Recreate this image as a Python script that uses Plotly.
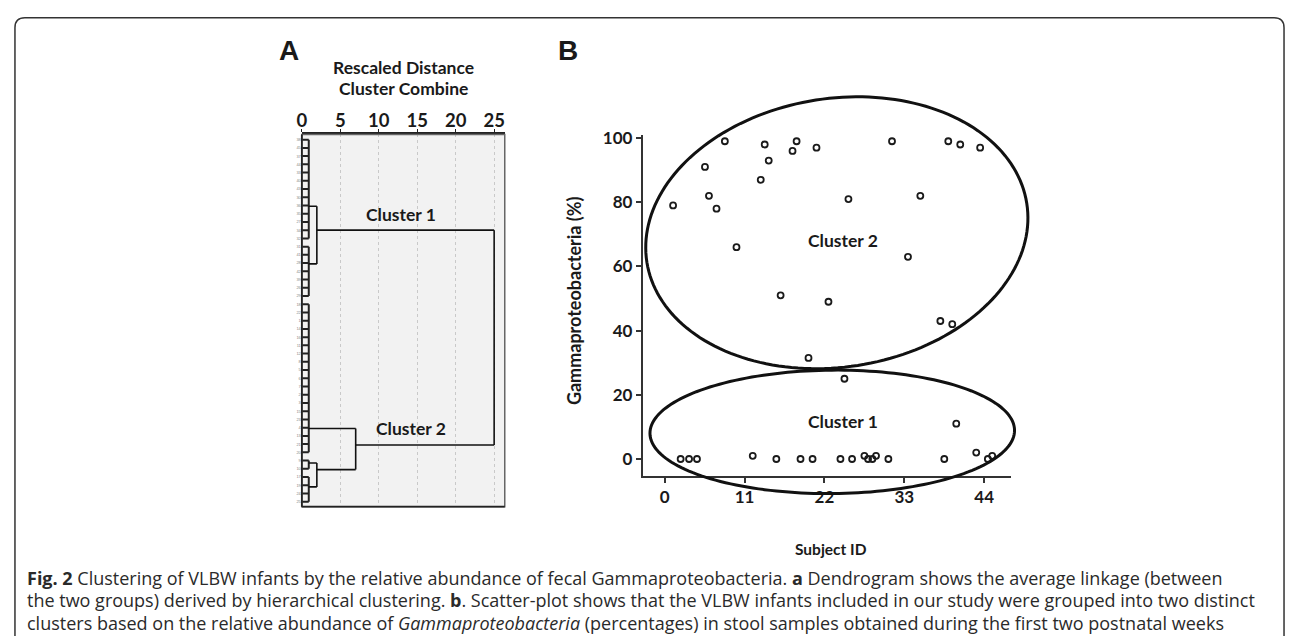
import numpy as np
import plotly.graph_objects as go

W, H = 1290, 636

# ---------------- Panel A data (dendrogram) ----------------
leaf_labels = ["38", "45", "37", "44", "33", "40", "43", "30", "36", "35", "27", "34", "32", "31",
               "41", "28", "42", "39", "26", "29",
               "18", "22", "1", "14", "16", "11", "12", "8", "5", "6", "7", "2", "3", "15", "23",
               "4", "13", "21", "20", "9", "10", "17", "19", "24", "25"]
# leaf groups joined near distance 0 (first leaf index, last leaf index)
leaf_groups = [(0, 12), (13, 19), (20, 38), (39, 40), (41, 44)]
group_join_dist = [0.9, 0.9, 0.9, 0.9, 0.9]
group_anchor = [8.1, 15.1, 35.1, 39.3, 42.2]
# merges: child node a, child node b, rescaled distance, anchor (leaf units)
merge_a = [0, 3, 2, 5]
merge_b = [1, 4, 6, 7]
merge_dist = [1.95, 1.95, 7.0, 25.0]
merge_anchor = [11.0, 40.1, 37.1, 24.0]
dendro_ticks = [0, 5, 10, 15, 20, 25]

# ---------------- Panel B data (scatter) ----------------
subject_id = [1.15, 2.19, 3.35, 4.44, 5.54, 6.09, 7.13, 8.28, 9.88, 12.12, 13.22, 13.77, 14.32, 15.37,
              15.96, 17.6, 18.16, 18.7, 19.8, 20.36, 20.9, 22.55, 24.2, 24.75, 25.3, 25.8, 27.5, 28.0,
              28.6, 29.1, 30.8, 31.3, 33.5, 35.2, 37.96, 38.5, 39.05, 39.6, 40.15, 40.7, 42.9, 43.44,
              44.5, 45.1]
gamma_pct = [79, 0, 0, 0, 91, 82, 78, 99, 66, 1, 87, 98, 93, 0,
             51, 96, 99, 0, 31.5, 0, 97, 49, 0, 25, 81, 0, 1, 0,
             0, 1, 0, 99, 63, 82, 43, 0, 99, 42, 11, 98, 2, 97,
             0, 1]
x_ticks = [0, 11, 22, 33, 44]
y_ticks = [0, 20, 40, 60, 80, 100]

# ---------------- layout geometry ----------------
xd1 = [298 / W, 501.7 / W]
yd1 = [1 - 505 / H, 1 - 128 / H]
xr1 = [0, 26.38]
yr1 = [44.6, -0.64]

xd2 = [640 / W, 1010 / W]
yd2 = [1 - 474.3 / H, 1 - 128.3 / H]
xr2 = [-3.06, 47.7]
yr2 = [-5.4, 101.05]

LABEL_FONT = "Lato"
INK = "#1a1a1a"

fig = go.Figure()

# ---- dendrogram lines ----
node_dist = list(group_join_dist)
node_anchor = list(group_anchor)
rx, ry = [], []
for g, (a, b) in enumerate(leaf_groups):
    for i in range(a, b + 1):
        rx += [0, group_join_dist[g], None]
        ry += [i, i, None]
    rx += [group_join_dist[g], group_join_dist[g], None]
    ry += [a, b, None]
fig.add_trace(go.Scatter(x=rx, y=ry, mode="lines", line=dict(color="#222", width=2),
                         xaxis="x", yaxis="y", hoverinfo="skip", showlegend=False))

mx, my = [], []
for a, b, d, anc in zip(merge_a, merge_b, merge_dist, merge_anchor):
    for c in (a, b):
        mx += [node_dist[c], d, None]
        my += [node_anchor[c], node_anchor[c], None]
    mx += [d, d, None]
    my += [node_anchor[a], node_anchor[b], None]
    node_dist.append(d)
    node_anchor.append(anc)
fig.add_trace(go.Scatter(x=mx, y=my, mode="lines", line=dict(color="#111", width=1.6),
                         xaxis="x", yaxis="y", hoverinfo="skip", showlegend=False))

# ---- scatter ----
fig.add_trace(go.Scatter(x=subject_id, y=gamma_pct, mode="markers",
                         marker=dict(symbol="circle-open", size=6, color=INK,
                                     line=dict(width=1.8, color=INK)),
                         xaxis="x2", yaxis="y2", showlegend=False,
                         cliponaxis=False))

shapes = []
shapes.append(dict(type="rect", xref="x domain", yref="y domain", x0=0, x1=1, y0=0, y1=1,
                   fillcolor="#f2f2f2", line=dict(width=0), layer="below"))
shapes.append(dict(type="rect", xref="x domain", yref="y domain", x0=0, x1=1, y0=0, y1=1,
                   fillcolor="rgba(0,0,0,0)", line=dict(color="#666", width=1.5), layer="above"))
shapes.append(dict(type="line", xref="x domain", yref="y domain", x0=0, x1=0, y0=0, y1=1,
                   line=dict(color="#222", width=1.8), layer="above"))
shapes.append(dict(type="line", xref="x domain", yref="y domain", x0=0, x1=1, y0=0, y1=0,
                   line=dict(color="#222", width=1.8), layer="above"))


def p2(x, y):
    u = xd2[0] + (x - xr2[0]) / (xr2[1] - xr2[0]) * (xd2[1] - xd2[0])
    v = yd2[0] + (y - yr2[0]) / (yr2[1] - yr2[0]) * (yd2[1] - yd2[0])
    return u, v


def ellipse_path(cx, cy, a_px, b_px, rot_deg, n=180):
    u0, v0 = p2(cx, cy)
    th = np.deg2rad(rot_deg)
    t = np.linspace(0, 2 * np.pi, n, endpoint=False)
    dx = a_px * np.cos(t) * np.cos(th) - b_px * np.sin(t) * np.sin(th)
    dy = a_px * np.cos(t) * np.sin(th) + b_px * np.sin(t) * np.cos(th)
    pts = [f"{u0 + x / W:.5f},{v0 + y / H:.5f}" for x, y in zip(dx, dy)]
    return "M" + " L".join(pts) + " Z"


shapes.append(dict(type="path", xref="paper", yref="paper",
                   path=ellipse_path(23.7, 70.5, 193, 136, 8.9),
                   line=dict(color="#111", width=3)))
shapes.append(dict(type="path", xref="paper", yref="paper",
                   path=ellipse_path(23.07, 8.46, 183, 62.5, 0.5),
                   line=dict(color="#111", width=3)))


def px(xp, yp):
    return f"{xp / W:.5f},{1 - yp / H:.5f}"


L, T, R, B, r = 10, 10, 1284, 680, 10
frame = (f"M{px(L, B)} L{px(L, T + r)} Q{px(L, T)} {px(L + r, T)} L{px(R - r, T)} "
         f"Q{px(R, T)} {px(R, T + r)} L{px(R, B)}")
shapes.append(dict(type="path", xref="paper", yref="paper", path=frame,
                   line=dict(color="#333", width=1.5)))


def txt(text, x, y, size, family=LABEL_FONT, xref="paper", yref="paper", **kw):
    d = dict(text=text, x=x, y=y, xref=xref, yref=yref, showarrow=False,
             xanchor="center", yanchor="middle",
             font=dict(family=family, size=size, color=INK, weight="bold"))
    d.update(kw)
    return d


ann = []
ann.append(txt("A", 285 / W, 1 - 43 / H, 28, family="Liberation Sans"))
ann.append(txt("B", 565 / W, 1 - 43 / H, 28, family="Liberation Sans"))
ann.append(txt("Rescaled Distance", 400 / W, 1 - 60 / H, 17.5))
ann.append(txt("Cluster Combine", 400 / W, 1 - 82 / H, 17.5))
ann.append(txt("Cluster 1", 12.95, 9.1, 17.5, xref="x", yref="y"))
ann.append(txt("Cluster 2", 14.25, 35.1, 17.5, xref="x", yref="y"))
ann.append(txt("Cluster 2", 24.6, 68.2, 17.5, xref="x2", yref="y2"))
ann.append(txt("Cluster 1", 24.6, 11.8, 17.5, xref="x2", yref="y2"))
ann.append(txt("Gammaproteobacteria (%)", 571 / W, 1 - 296 / H, 18, textangle=-90))
ann.append(txt("Subject ID", 829 / W, 1 - 548 / H, 15.5))

cap = [
    "<b>Fig. 2</b> Clustering of VLBW infants by the relative abundance of fecal Gammaproteobacteria. "
    "<b>a</b> Dendrogram shows the average linkage (between",
    "the two groups) derived by hierarchical clustering. <b>b</b>. Scatter-plot shows that the VLBW "
    "infants included in our study were grouped into two distinct",
    "clusters based on the relative abundance of <i>Gammaproteobacteria</i> (percentages) in stool "
    "samples obtained during the first two postnatal weeks",
]
for k, line in enumerate(cap):
    ann.append(dict(text=line, x=20 / W, y=1 - (577 + 23 * k) / H, xref="paper", yref="paper",
                    xanchor="left", yanchor="middle", showarrow=False,
                    font=dict(family="Open Sans", size=18, color="#2a2a2a")))

tick_font = dict(family=LABEL_FONT, size=17, color=INK, weight="bold")
dendro_tick_font = dict(family=LABEL_FONT, size=18.5, color=INK, weight="bold")
fig.update_layout(
    width=W, height=H, margin=dict(l=0, r=0, t=0, b=0),
    paper_bgcolor="white", plot_bgcolor="rgba(0,0,0,0)",
    shapes=shapes, annotations=ann,
    xaxis=dict(domain=xd1, range=xr1, side="top", anchor="y", tickvals=dendro_ticks,
               ticks="outside", ticklen=3, tickcolor="#222", showline=True, linecolor="#222",
               linewidth=2, showgrid=True, gridcolor="#c9c9c9", griddash="dot", gridwidth=1,
               zeroline=False, tickfont=dendro_tick_font, ticklabelstandoff=-5),
    yaxis=dict(domain=yd1, range=yr1, anchor="x", tickvals=list(range(len(leaf_labels))),
               ticktext=leaf_labels, ticks="", showgrid=False, zeroline=False, showline=False,
               tickfont=dict(family="Liberation Sans", size=4, color="#888")),
    xaxis2=dict(domain=xd2, range=xr2, anchor="y2", tickvals=x_ticks, ticks="outside",
                ticklen=5, tickwidth=1.5, tickcolor="#333", showline=True, linecolor="#333",
                linewidth=1.5, showgrid=False, zeroline=False, tickfont=tick_font),
    yaxis2=dict(domain=yd2, range=yr2, anchor="x2", tickvals=y_ticks, ticks="outside",
                ticklen=5, tickwidth=1.5, tickcolor="#333", showline=True, linecolor="#333",
                linewidth=1.5, showgrid=False, zeroline=False, tickfont=tick_font),
)

fig.write_html("out.html", config={"displayModeBar": False},
               post_script="document.body.style.margin='0';document.body.style.overflow='hidden';")
